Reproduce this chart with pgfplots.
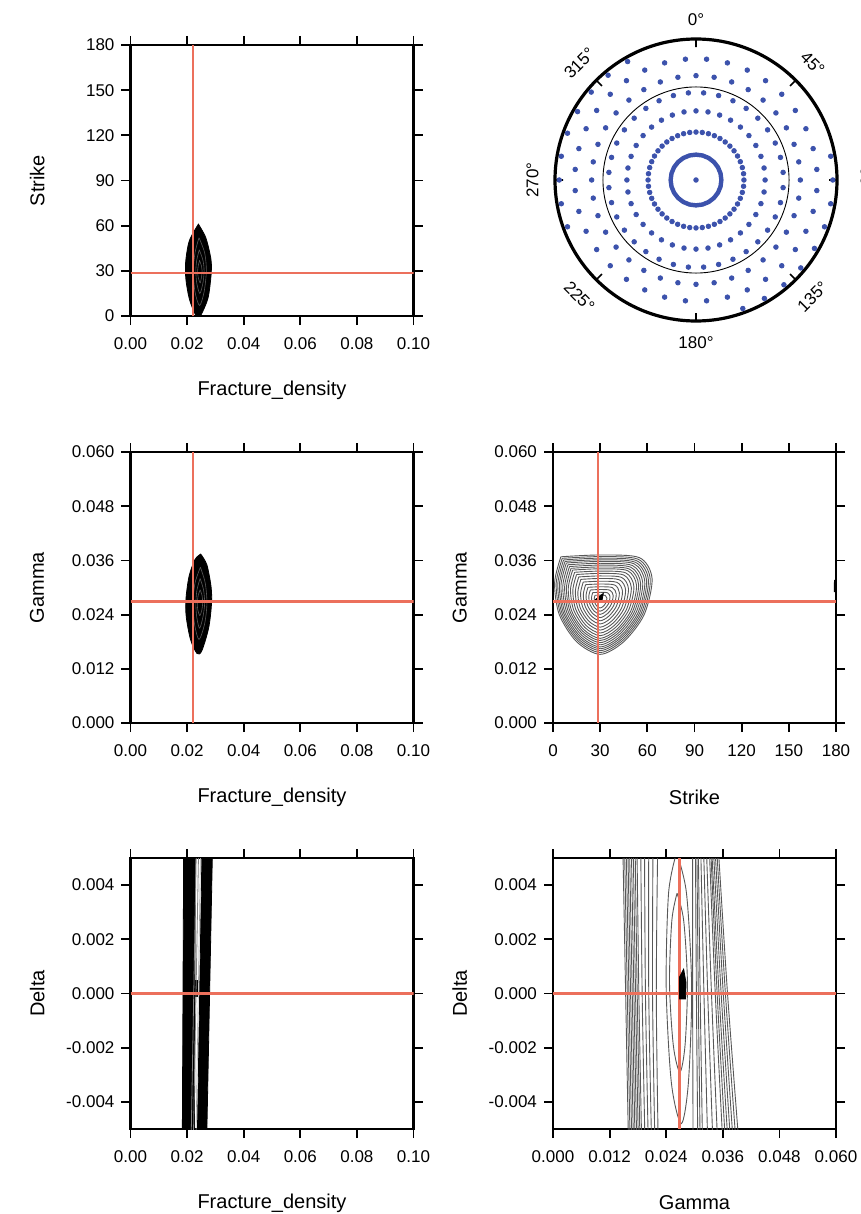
\documentclass[border=0pt]{standalone}
\usepackage{fontspec}
\setmainfont{Liberation Sans}
\usepackage{pgfplots}
\usepackage{pgfplotstable}
\pgfplotsset{compat=1.18}
\usepgfplotslibrary{polar}

\definecolor{crossred}{RGB}{236,112,92}
\definecolor{dotblue}{RGB}{60,82,172}
\definecolor{contgray}{RGB}{88,88,88}

\pgfplotsset{
  panel/.style={
    scale only axis, width=141.5pt, height=135.5pt,
    scaled ticks=false,
    axis line style={line width=1.4pt},
    tick align=outside, major tick length=4.5pt,
    tick style={black, line width=0.9pt},
    tick label style={font=\fontsize{8.5}{10}\selectfont},
    label style={font=\fontsize{10}{12}\selectfont},
    every axis x label/.style={at={(axis description cs:0.5,-0.273)}, anchor=center},
    every axis y label/.style={at={(axis description cs:-0.33,0.5)}, anchor=center, rotate=90},
    xticklabel style={yshift=-3pt},
  },
  cross/.style={color=crossred, line width=1.1pt},
  lens/.style={fill=black, draw=black, line width=0.4pt, smooth},
  streak/.style={gray!70!black, line width=0.3pt, smooth},
  cont/.style={contgray, line width=0.45pt, smooth},
}

% stereonet sample rings: angle, offset angle, radii
\pgfplotstableread{
a b r3 r4 r5 r6
0 5 0.49 0.62 0.74 0.86
10 15 0.49 0.62 0.74 0.86
20 25 0.49 0.62 0.74 0.86
30 35 0.49 0.62 0.74 0.86
40 45 0.49 0.62 0.74 0.86
50 55 0.49 0.62 0.74 0.86
60 65 0.49 0.62 0.74 0.86
70 75 0.49 0.62 0.74 0.86
80 85 0.49 0.62 0.74 0.86
90 95 0.49 0.62 0.74 0.86
100 105 0.49 0.62 0.74 0.86
110 115 0.49 0.62 0.74 0.86
120 125 0.49 0.62 0.74 0.86
130 135 0.49 0.62 0.74 0.86
140 145 0.49 0.62 0.74 0.86
150 155 0.49 0.62 0.74 0.86
160 165 0.49 0.62 0.74 0.86
170 175 0.49 0.62 0.74 0.86
180 185 0.49 0.62 0.74 0.86
190 195 0.49 0.62 0.74 0.86
200 205 0.49 0.62 0.74 0.86
210 215 0.49 0.62 0.74 0.86
220 225 0.49 0.62 0.74 0.86
230 235 0.49 0.62 0.74 0.86
240 245 0.49 0.62 0.74 0.86
250 255 0.49 0.62 0.74 0.86
260 265 0.49 0.62 0.74 0.86
270 275 0.49 0.62 0.74 0.86
280 285 0.49 0.62 0.74 0.86
290 295 0.49 0.62 0.74 0.86
300 305 0.49 0.62 0.74 0.86
310 315 0.49 0.62 0.74 0.86
320 325 0.49 0.62 0.74 0.86
330 335 0.49 0.62 0.74 0.86
340 345 0.49 0.62 0.74 0.86
350 355 0.49 0.62 0.74 0.86
}\ringtab

\begin{document}
\begin{tikzpicture}
\useasboundingbox (0,0) rectangle (430.5pt,-607pt);

% ---------- Strike vs Fracture_density
\begin{axis}[panel, at={(65.25pt,-158pt)}, anchor=south west,
  xmin=0, xmax=0.1, ymin=0, ymax=180,
  xtick={0,0.02,0.04,0.06,0.08,0.1}, xticklabels={0.00,0.02,0.04,0.06,0.08,0.10},
  ytick={0,30,60,90,120,150,180}, yticklabels={0,30,60,90,120,150,180},
  xlabel={Fracture\_density}, ylabel={Strike}]
\addplot[lens] coordinates {(0.0240,61) (0.0266,52) (0.0284,38) (0.0285,28) (0.0274,12) (0.0250,1) (0.0238,-2) (0.0210,10) (0.0196,24) (0.0195,36) (0.0208,50) (0.0240,61)} -- cycle;
\addplot[streak] coordinates {(0.0242,52) (0.0262,42) (0.0268,30) (0.0260,16) (0.0244,7) (0.0228,16) (0.0222,30) (0.0228,42) (0.0242,52)};
\addplot[streak] coordinates {(0.0243,44) (0.0256,37) (0.0260,30) (0.0256,22) (0.0245,15) (0.0234,22) (0.0231,30) (0.0234,37) (0.0243,44)};
\addplot[streak] coordinates {(0.0244,37) (0.0251,33) (0.0253,30) (0.0251,26) (0.0246,22) (0.0239,26) (0.0237,30) (0.0239,33) (0.0244,37)};
\addplot[cross] coordinates {(0.0222,0) (0.0222,180)};
\addplot[cross] coordinates {(0,28.4) (0.1,28.4)};
\end{axis}

% ---------- stereonet
\begin{polaraxis}[at={(348pt,-90pt)}, anchor=center, scale only axis,
  width=141pt, height=141pt, ymin=0, ymax=1, clip=false,
  xtick={0,45,90,135,180,225,270,315}, xticklabels={},
  ytick={0.66}, yticklabels={},
  xmajorgrids=false, ymajorgrids=true, y grid style={black, line width=0.45pt},
  axis line style={line width=1.6pt}, y axis line style={draw=none},
  xtick align=outside, major tick length=4pt,
  xtick style={black, line width=0.8pt}, ytick style={draw=none}]
\addplot[only marks, mark=*, mark size=1.15pt, dotblue] coordinates {(0,0)};
\addplot[dotblue, line width=2.2pt] coordinates {(0,0.18) (15,0.18) (30,0.18) (45,0.18) (60,0.18) (75,0.18) (90,0.18) (105,0.18) (120,0.18) (135,0.18) (150,0.18) (165,0.18) (180,0.18) (195,0.18) (210,0.18) (225,0.18) (240,0.18) (255,0.18) (270,0.18) (285,0.18) (300,0.18) (315,0.18) (330,0.18) (345,0.18) (360,0.18)};
\addplot[only marks, mark=*, mark size=1.15pt, dotblue] coordinates {(0,0.34) (7.5,0.34) (15,0.34) (22.5,0.34) (30,0.34) (37.5,0.34) (45,0.34) (52.5,0.34) (60,0.34) (67.5,0.34) (75,0.34) (82.5,0.34) (90,0.34) (97.5,0.34) (105,0.34) (112.5,0.34) (120,0.34) (127.5,0.34) (135,0.34) (142.5,0.34) (150,0.34) (157.5,0.34) (165,0.34) (172.5,0.34) (180,0.34) (187.5,0.34) (195,0.34) (202.5,0.34) (210,0.34) (217.5,0.34) (225,0.34) (232.5,0.34) (240,0.34) (247.5,0.34) (255,0.34) (262.5,0.34) (270,0.34) (277.5,0.34) (285,0.34) (292.5,0.34) (300,0.34) (307.5,0.34) (315,0.34) (322.5,0.34) (330,0.34) (337.5,0.34) (345,0.34) (352.5,0.34)};
\addplot[only marks, mark=*, mark size=1.15pt, dotblue] table[x=a, y=r3] {\ringtab};
\addplot[only marks, mark=*, mark size=1.15pt, dotblue] table[x=b, y=r4] {\ringtab};
\addplot[only marks, mark=*, mark size=1.15pt, dotblue] table[x=a, y=r5] {\ringtab};
\addplot[only marks, mark=*, mark size=1.15pt, dotblue] table[x=b, y=r6] {\ringtab};
\addplot[only marks, mark=*, mark size=1.15pt, dotblue] coordinates {(120,0.97) (130,0.97) (140,0.97) (150,0.97) (160,0.97) (170,0.97) (180,0.97) (190,0.97) (200,0.97) (290,0.97) (300,0.97) (310,0.97) (320,0.97) (330,0.97) (340,0.97) (350,0.97) (0,0.97) (10,0.97)};
\path[font=\fontsize{8.5}{10}\selectfont]
  (axis cs:90,1.14) node {0°}
  (axis cs:45,1.17) node[rotate=-45] {45°}
  (axis cs:0,1.21) node[rotate=-90] {90°}
  (axis cs:315,1.17) node[rotate=45] {135°}
  (axis cs:270,1.15) node {180°}
  (axis cs:225,1.17) node[rotate=-45] {225°}
  (axis cs:180,1.16) node[rotate=90] {270°}
  (axis cs:135,1.17) node[rotate=45] {315°};
\end{polaraxis}

% ---------- Gamma vs Fracture_density
\begin{axis}[panel, at={(65.25pt,-361.5pt)}, anchor=south west,
  xmin=0, xmax=0.1, ymin=0, ymax=0.06,
  xtick={0,0.02,0.04,0.06,0.08,0.1}, xticklabels={0.00,0.02,0.04,0.06,0.08,0.10},
  ytick={0,0.012,0.024,0.036,0.048,0.06}, yticklabels={0.000,0.012,0.024,0.036,0.048,0.060},
  xlabel={Fracture\_density}, ylabel={Gamma}]
\addplot[lens] coordinates {(0.0248,0.0374) (0.0270,0.0350) (0.0285,0.0300) (0.0286,0.0262) (0.0276,0.0210) (0.0252,0.0160) (0.0235,0.0154) (0.0212,0.0185) (0.0197,0.0235) (0.0196,0.0275) (0.0207,0.0325) (0.0228,0.0362) (0.0248,0.0374)} -- cycle;
\addplot[streak] coordinates {(0.0247,0.0345) (0.0264,0.0310) (0.0270,0.0265) (0.0262,0.0220) (0.0242,0.0185) (0.0226,0.0220) (0.0221,0.0265) (0.0228,0.0310) (0.0247,0.0345)};
\addplot[streak] coordinates {(0.0246,0.0320) (0.0258,0.0295) (0.0262,0.0265) (0.0256,0.0235) (0.0244,0.0210) (0.0234,0.0235) (0.0231,0.0265) (0.0235,0.0295) (0.0246,0.0320)};
\addplot[streak] coordinates {(0.0246,0.0295) (0.0253,0.0282) (0.0255,0.0265) (0.0252,0.0250) (0.0245,0.0238) (0.0238,0.0250) (0.0236,0.0265) (0.0239,0.0282) (0.0246,0.0295)};
\addplot[cross] coordinates {(0.0222,0) (0.0222,0.06)};
\addplot[cross] coordinates {(0,0.0269) (0.1,0.0269)};
\end{axis}

% ---------- Gamma vs Strike
\begin{axis}[panel, at={(276.5pt,-361.5pt)}, anchor=south west,
  xmin=0, xmax=180, ymin=0, ymax=0.06,
  xtick={0,30,60,90,120,150,180}, xticklabels={0,30,60,90,120,150,180},
  ytick={0,0.012,0.024,0.036,0.048,0.06}, yticklabels={0.000,0.012,0.024,0.036,0.048,0.060},
  xlabel={Strike}, ylabel={Gamma}]
\addplot[cont] coordinates {(5,0.0368) (30,0.0372) (55,0.0366) (63,0.0320) (58,0.0240) (45,0.0180) (30,0.0152) (15,0.0180) (4,0.0240) (1,0.0310) (5,0.0368)};
\addplot[cont] coordinates {(5.88,0.03646) (30,0.03684) (54.13,0.03626) (61.85,0.03183) (57.02,0.0241) (44.48,0.01832) (30,0.01561) (15.52,0.01832) (4.91,0.0241) (2.02,0.03086) (5.88,0.03646)};
\addplot[cont] coordinates {(6.75,0.03611) (30,0.03649) (53.25,0.03593) (60.69,0.03165) (56.04,0.02421) (43.95,0.01863) (30,0.01603) (16.05,0.01863) (5.82,0.02421) (3.03,0.03072) (6.75,0.03611)};
\addplot[cont] coordinates {(7.63,0.03577) (30,0.03613) (52.38,0.03559) (59.54,0.03148) (55.06,0.02432) (43.43,0.01895) (30,0.01644) (16.58,0.01895) (6.73,0.02432) (4.05,0.03058) (7.63,0.03577)};
\addplot[cont] coordinates {(8.5,0.03543) (30,0.03577) (51.5,0.03526) (58.38,0.0313) (54.08,0.02442) (42.9,0.01926) (30,0.01685) (17.1,0.01926) (7.64,0.02442) (5.06,0.03044) (8.5,0.03543)};
\addplot[cont] coordinates {(9.5,0.03504) (30,0.03536) (50.5,0.03487) (57.06,0.0311) (52.96,0.02454) (42.3,0.01962) (30,0.01732) (17.7,0.01962) (8.68,0.02454) (6.22,0.03028) (9.5,0.03504)};
\addplot[cont] coordinates {(10.5,0.03464) (30,0.03496) (49.5,0.03449) (55.74,0.0309) (51.84,0.02466) (41.7,0.01998) (30,0.0178) (18.3,0.01998) (9.72,0.02466) (7.38,0.03012) (10.5,0.03464)};
\addplot[cont] coordinates {(11.5,0.03425) (30,0.03455) (48.5,0.0341) (54.42,0.0307) (50.72,0.02478) (41.1,0.02034) (30,0.01827) (18.9,0.02034) (10.76,0.02478) (8.54,0.02996) (11.5,0.03425)};
\addplot[cont] coordinates {(12.5,0.03386) (30,0.03414) (47.5,0.03372) (53.1,0.0305) (49.6,0.0249) (40.5,0.0207) (30,0.01874) (19.5,0.0207) (11.8,0.0249) (9.7,0.0298) (12.5,0.03386)};
\addplot[cont] coordinates {(13.75,0.03337) (30,0.03363) (46.25,0.03324) (51.45,0.03025) (48.2,0.02505) (39.75,0.02115) (30,0.01933) (20.25,0.02115) (13.1,0.02505) (11.15,0.0296) (13.75,0.03337)};
\addplot[cont] coordinates {(15,0.03288) (30,0.03312) (45,0.03276) (49.8,0.030) (46.8,0.0252) (39,0.0216) (30,0.01992) (21,0.0216) (14.4,0.0252) (12.6,0.0294) (15,0.03288)};
\addplot[cont] coordinates {(16.38,0.03234) (30,0.03256) (43.63,0.03223) (47.99,0.02973) (45.26,0.02537) (38.18,0.0221) (30,0.02057) (21.83,0.0221) (15.83,0.02537) (14.2,0.02918) (16.38,0.03234)};
\addplot[cont] coordinates {(17.75,0.0318) (30,0.032) (42.25,0.0317) (46.17,0.02945) (43.72,0.02553) (37.35,0.02259) (30,0.02122) (22.65,0.02259) (17.26,0.02553) (15.79,0.02896) (17.75,0.0318)};
\addplot[cont] coordinates {(19.25,0.03121) (30,0.03139) (40.75,0.03113) (44.19,0.02915) (42.04,0.02571) (36.45,0.02313) (30,0.02193) (23.55,0.02313) (18.82,0.02571) (17.53,0.02872) (19.25,0.03121)};
\addplot[cont] coordinates {(20.75,0.03063) (30,0.03077) (39.25,0.03055) (42.21,0.02885) (40.36,0.02589) (35.55,0.02367) (30,0.02263) (24.45,0.02367) (20.38,0.02589) (19.27,0.02848) (20.75,0.03063)};
\addplot[cont] coordinates {(22.25,0.03004) (30,0.03016) (37.75,0.02998) (40.23,0.02855) (38.68,0.02607) (34.65,0.02421) (30,0.02334) (25.35,0.02421) (21.94,0.02607) (21.01,0.02824) (22.25,0.03004)};
\addplot[cont] coordinates {(23.75,0.02945) (30,0.02955) (36.25,0.0294) (38.25,0.02825) (37,0.02625) (33.75,0.02475) (30,0.02405) (26.25,0.02475) (23.5,0.02625) (22.75,0.028) (23.75,0.02945)};
\addplot[cont] coordinates {(25.25,0.02886) (30,0.02894) (34.75,0.02882) (36.27,0.02795) (35.32,0.02643) (32.85,0.02529) (30,0.02476) (27.15,0.02529) (25.06,0.02643) (24.49,0.02776) (25.25,0.02886)};
\addplot[cont] coordinates {(26.75,0.02827) (30,0.02833) (33.25,0.02825) (34.3,0.02765) (33.6,0.02661) (31.95,0.02583) (30,0.02547) (28.05,0.02583) (26.6,0.02661) (26.2,0.02752) (26.75,0.02827)};
\addplot[fill=black, draw=black] coordinates {(26.5,0.0272) (32,0.0287) (31,0.0268)} -- cycle;
\addplot[black, line width=1pt] coordinates {(179.2,0.0290) (179.4,0.0317)};
\addplot[cross] coordinates {(28.7,0) (28.7,0.06)};
\addplot[cross] coordinates {(0,0.0269) (180,0.0269)};
\end{axis}

% ---------- Delta vs Fracture_density
\begin{axis}[panel, at={(65.25pt,-564.5pt)}, anchor=south west,
  xmin=0, xmax=0.1, ymin=-0.005, ymax=0.005,
  xtick={0,0.02,0.04,0.06,0.08,0.1}, xticklabels={0.00,0.02,0.04,0.06,0.08,0.10},
  ytick={-0.004,-0.002,0,0.002,0.004}, yticklabels={-0.004,-0.002,0.000,0.002,0.004},
  xlabel={Fracture\_density}, ylabel={Delta}]
\addplot[cross] coordinates {(0.0222,-0.005) (0.0222,0.005)};
\addplot[fill=black, draw=black] coordinates {(0.0188,0.0055) (0.0229,0.0055) (0.0226,-0.0055) (0.0183,-0.0055)} -- cycle;
\addplot[fill=black, draw=black] coordinates {(0.0253,0.0055) (0.0290,0.0055) (0.0269,-0.0055) (0.0236,-0.0055)} -- cycle;
\addplot[fill=black, draw=black] coordinates {(0.0223,0.0005) (0.0237,0.0005) (0.0237,-0.0001) (0.0223,-0.0001)} -- cycle;
\addplot[gray, line width=0.4pt] coordinates {(0.0233,0.0055) (0.0214,-0.0055)};
\addplot[gray, line width=0.4pt] coordinates {(0.0241,0.0055) (0.0222,-0.0055)};
\addplot[gray!70, line width=0.3pt] coordinates {(0.0248,0.0055) (0.0231,-0.0055)};
\addplot[cross] coordinates {(0,0) (0.1,0)};
\end{axis}

% ---------- Delta vs Gamma
\begin{axis}[panel, at={(276.5pt,-564.5pt)}, anchor=south west,
  xmin=0, xmax=0.06, ymin=-0.005, ymax=0.005,
  xtick={0,0.012,0.024,0.036,0.048,0.06}, xticklabels={0.000,0.012,0.024,0.036,0.048,0.060},
  ytick={-0.004,-0.002,0,0.002,0.004}, yticklabels={-0.004,-0.002,0.000,0.002,0.004},
  xlabel={Gamma}, ylabel={Delta}]
\addplot[cont] coordinates {(0.0148,0.0055) (0.0154,0) (0.0160,-0.0055)};
\addplot[cont] coordinates {(0.01515,0.0055) (0.01575,0) (0.01635,-0.0055)};
\addplot[cont] coordinates {(0.0155,0.0055) (0.0161,0) (0.0167,-0.0055)};
\addplot[cont] coordinates {(0.01585,0.0055) (0.01645,0) (0.01705,-0.0055)};
\addplot[cont] coordinates {(0.0162,0.0055) (0.0168,0) (0.0174,-0.0055)};
\addplot[cont] coordinates {(0.0166,0.0055) (0.01715,0) (0.01775,-0.0055)};
\addplot[cont] coordinates {(0.0170,0.0055) (0.0175,0) (0.0181,-0.0055)};
\addplot[cont] coordinates {(0.0174,0.0055) (0.01785,0) (0.01845,-0.0055)};
\addplot[cont] coordinates {(0.0178,0.0055) (0.0182,0) (0.0188,-0.0055)};
\addplot[cont] coordinates {(0.0186,0.0055) (0.0189,0) (0.0195,-0.0055)};
\addplot[cont] coordinates {(0.0194,0.0055) (0.0196,0) (0.0202,-0.0055)};
\addplot[cont] coordinates {(0.0203,0.0055) (0.0203,0) (0.0209,-0.0055)};
\addplot[cont] coordinates {(0.0212,0.0055) (0.0211,0) (0.0216,-0.0055)};
\addplot[cont] coordinates {(0.0222,0.0055) (0.0219,0) (0.0223,-0.0055)};
\addplot[cont] coordinates {(0.0296,0.0055) (0.0296,0) (0.0297,-0.0055)};
\addplot[cont] coordinates {(0.0302,0.0055) (0.0304,0) (0.0307,-0.0055)};
\addplot[cont] coordinates {(0.0305,0.0055) (0.0308,0) (0.0312,-0.0055)};
\addplot[cont] coordinates {(0.0308,0.0055) (0.0312,0) (0.0317,-0.0055)};
\addplot[cont] coordinates {(0.0313,0.0055) (0.0320,0) (0.0328,-0.0055)};
\addplot[cont] coordinates {(0.0319,0.0055) (0.0328,0) (0.0339,-0.0055)};
\addplot[cont] coordinates {(0.0325,0.0055) (0.0336,0) (0.0349,-0.0055)};
\addplot[cont] coordinates {(0.0331,0.0055) (0.0344,0) (0.0360,-0.0055)};
\addplot[cont] coordinates {(0.0334,0.0055) (0.0348,0) (0.03655,-0.0055)};
\addplot[cont] coordinates {(0.0336,0.0055) (0.0352,0) (0.0371,-0.0055)};
\addplot[cont] coordinates {(0.03395,0.0055) (0.03565,0) (0.03765,-0.0055)};
\addplot[cont] coordinates {(0.0343,0.0055) (0.0361,0) (0.0382,-0.0055)};
\addplot[cont] coordinates {(0.03465,0.0055) (0.03655,0) (0.0388,-0.0055)};
\addplot[cont] coordinates {(0.0350,0.0055) (0.0370,0) (0.0394,-0.0055)};
\addplot[cont] coordinates {(0.0262,0.0052) (0.0283,0.0037) (0.0294,0.0002) (0.0287,-0.0033) (0.0272,-0.0048) (0.0251,-0.0033) (0.0240,0.0002) (0.0245,0.0037) (0.0262,0.0052)};
\addplot[cont] coordinates {(0.0263,0.0037) (0.0277,0.0027) (0.0285,0.0004) (0.0280,-0.0019) (0.0269,-0.0029) (0.0255,-0.0019) (0.0247,0.0004) (0.0252,0.0027) (0.0263,0.0037)};
\addplot[cross] coordinates {(0.0268,-0.005) (0.0268,0.005)};
\addplot[cross] coordinates {(0,0) (0.06,0)};
\addplot[fill=black, draw=black] coordinates {(0.0268,-0.0002) (0.0268,0.0006) (0.0277,0.0009) (0.0282,0.0004) (0.0281,-0.0002)} -- cycle;
\end{axis}
\end{tikzpicture}
\end{document}
